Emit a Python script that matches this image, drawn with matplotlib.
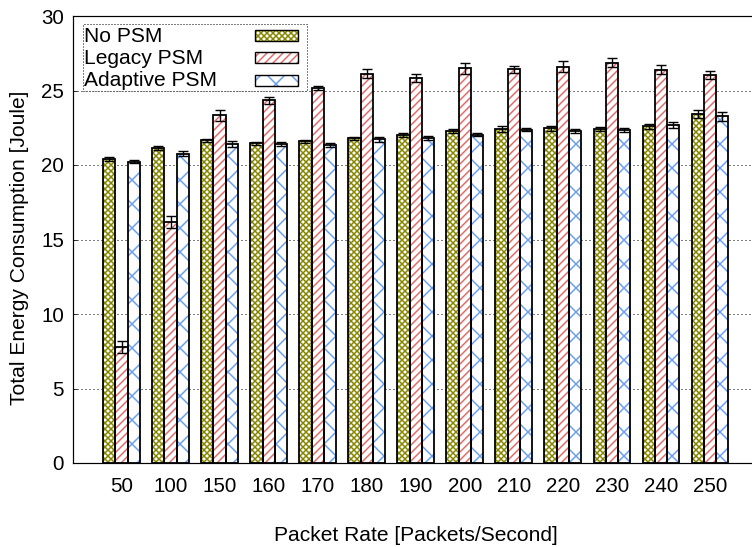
import numpy as np
import matplotlib
matplotlib.use('Agg')
from matplotlib import pyplot as plt
from matplotlib.patches import Rectangle

# at 72 dpi one point is one pixel, which keeps hatch spacing close to the original
plt.rcParams['font.family'] = ['Liberation Sans', 'DejaVu Sans']
plt.rcParams['hatch.linewidth'] = 1.5

# Data
rates = ['50', '100', '150', '160', '170', '180', '190', '200', '210', '220', '230', '240', '250']
labels = ['No PSM', 'Legacy PSM', 'Adaptive PSM']
no_psm = [20.40, 21.15, 21.65, 21.46, 21.59, 21.78, 22.00, 22.28, 22.41, 22.45, 22.41, 22.59, 23.43]
legacy = [7.80, 16.17, 23.33, 24.33, 25.17, 26.11, 25.84, 26.49, 26.42, 26.61, 26.86, 26.40, 26.03]
adaptive = [20.21, 20.77, 21.40, 21.40, 21.34, 21.72, 21.82, 22.03, 22.35, 22.28, 22.35, 22.70, 23.28]
no_psm_err = [0.15, 0.15, 0.10, 0.10, 0.12, 0.12, 0.15, 0.15, 0.20, 0.15, 0.15, 0.18, 0.25]
legacy_err = [0.40, 0.40, 0.37, 0.25, 0.15, 0.30, 0.30, 0.35, 0.25, 0.40, 0.30, 0.30, 0.25]
adaptive_err = [0.10, 0.15, 0.20, 0.15, 0.12, 0.15, 0.12, 0.10, 0.10, 0.12, 0.12, 0.20, 0.30]

series = [no_psm, legacy, adaptive]
errors = [no_psm_err, legacy_err, adaptive_err]
hatch_colors = ['#858500', '#e06a6a', '#6a9ef0']
hatches = ['xxxx', '///', 'x']

W, H = 752, 547
fig = plt.figure(figsize=(W / 72, H / 72), dpi=72)
ax = fig.add_axes([73 / W, (H - 463) / H, (759 - 73) / W, (463 - 16) / H])

x = np.arange(len(rates))
width = 0.25
for i, (vals, errs) in enumerate(zip(series, errors)):
    pos = x + (i - 1) * width
    ax.bar(pos, vals, width, facecolor='white', edgecolor=hatch_colors[i],
           hatch=hatches[i], linewidth=0, zorder=2)
    ax.bar(pos, vals, width, fill=False, edgecolor='black', linewidth=1.8, zorder=3)
    ax.errorbar(pos, vals, yerr=errs, fmt='none', ecolor='black',
                elinewidth=1.4, capsize=5, capthick=1.4, zorder=4)

ax.set_xlim(-0.99, 13.0)
ax.set_ylim(0, 30)
ax.set_yticks(range(0, 31, 5))
ax.set_xticks(x)
ax.set_xticklabels(rates)
ax.tick_params(axis='y', direction='in', length=4, labelsize=20.5, pad=9)
ax.tick_params(axis='x', length=0, labelsize=20.5, pad=14)
ax.yaxis.grid(True, linestyle=(0, (1, 3)), color='black', linewidth=1.0)
ax.set_axisbelow(True)
ax.spines['right'].set_visible(False)
for s in ['left', 'bottom', 'top']:
    ax.spines[s].set_linewidth(1.2)

ax.set_xlabel('Packet Rate [Packets/Second]', fontsize=21, labelpad=30)
ax.set_ylabel('Total Energy Consumption [Joule]', fontsize=21)
ax.yaxis.set_label_coords(-0.064, 0.481)

# hand-built legend box (labels left, swatches right, dotted frame)
def fx(px):
    return px / W

def fy(py):
    return 1 - py / H

frame = Rectangle((fx(83), fy(91)), fx(307) - fx(83), fy(24) - fy(91),
                  transform=fig.transFigure, facecolor='white', edgecolor='black',
                  linestyle=(0, (1, 2)), linewidth=1.0, zorder=5)
fig.add_artist(frame)
rows = [36, 58, 81]
for i, lab in enumerate(labels):
    fig.text(fx(84), fy(rows[i]), lab, fontsize=21, ha='left', va='center', zorder=6)
    r0 = (fx(255), fy(rows[i] + 5))
    rw, rh = fx(298) - fx(255), fy(rows[i] - 6) - fy(rows[i] + 5)
    fig.add_artist(Rectangle(r0, rw, rh, transform=fig.transFigure, facecolor='white',
                             edgecolor=hatch_colors[i], hatch=hatches[i], linewidth=0, zorder=6))
    fig.add_artist(Rectangle(r0, rw, rh, transform=fig.transFigure, fill=False,
                             edgecolor='black', linewidth=1.4, zorder=7))

fig.savefig('out.png', dpi=72)
